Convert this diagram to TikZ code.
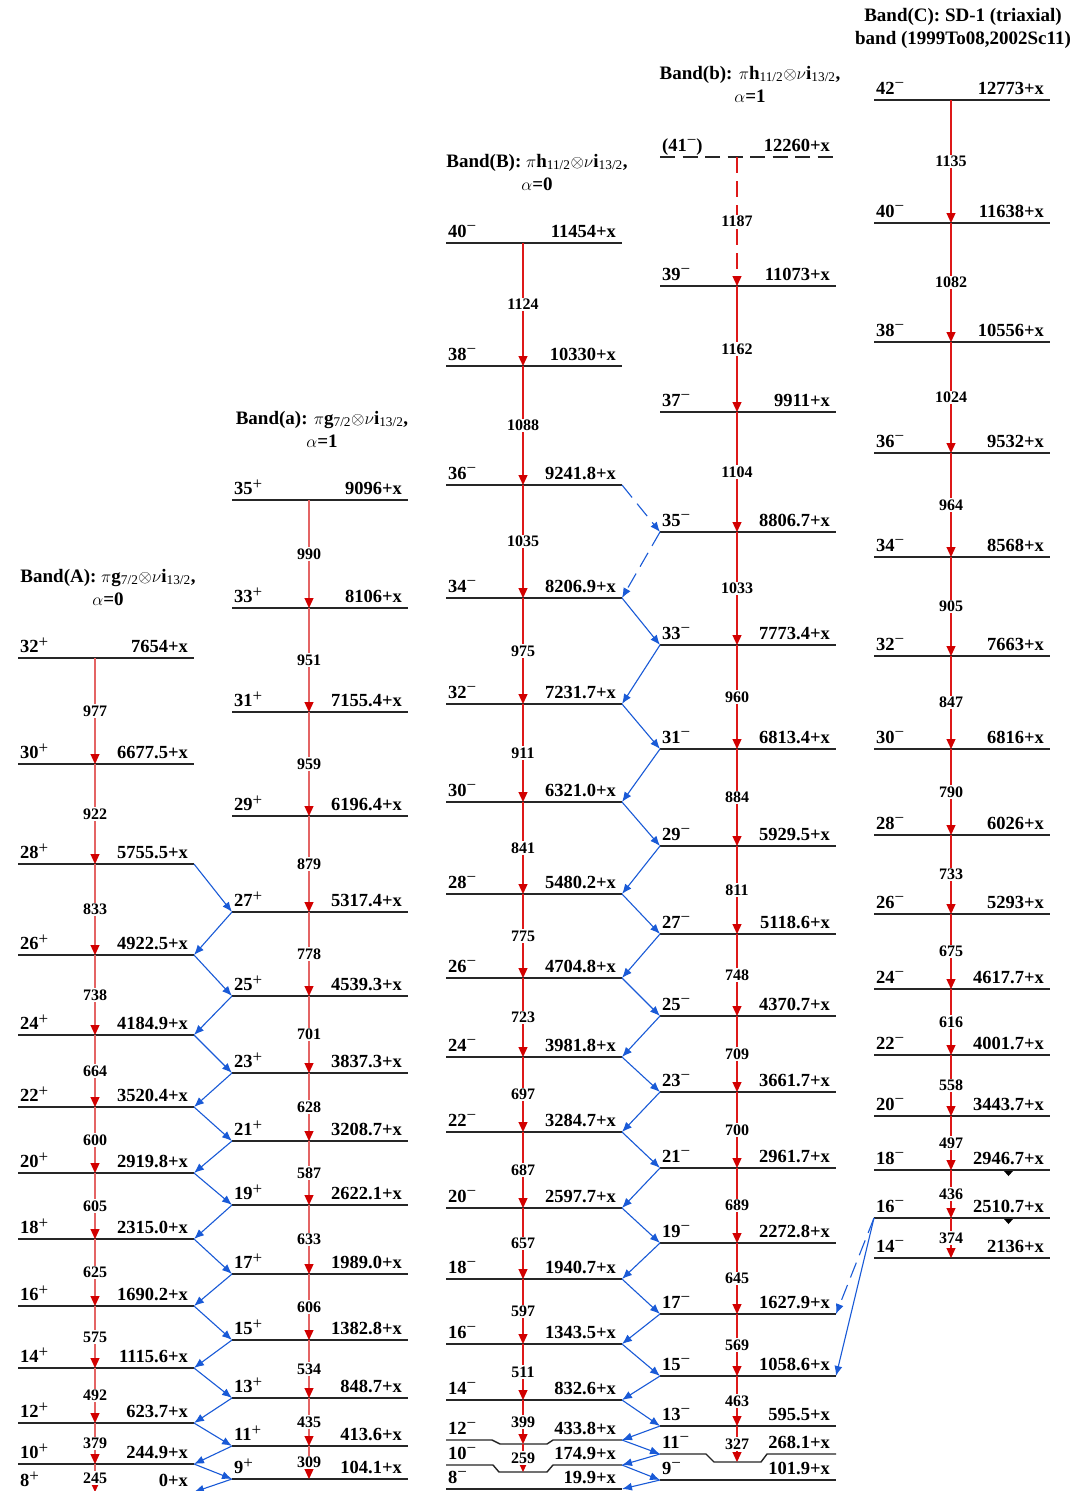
\documentclass[tikz,border=0pt]{standalone}
\usepackage{fontspec}
\setmainfont{Liberation Serif}
\usetikzlibrary{arrows.meta}
\definecolor{redA}{RGB}{228,100,100}
\definecolor{redB}{RGB}{222,25,25}
\definecolor{tipred}{RGB}{210,0,0}
\definecolor{linkblue}{RGB}{25,90,215}
\tikzstyle{LV} = [draw=black!85, line width=1.4pt]
\tikzstyle{J} = [anchor=base west, inner sep=0pt,
			font=\bfseries\fontsize{18.5}{20}\selectfont]
\tikzstyle{En} = [anchor=base east, inner sep=0pt,
			font=\bfseries\fontsize{18.5}{20}\selectfont]
\tikzstyle{G} = [fill=white, inner sep=1.5pt,
			font=\bfseries\fontsize{16}{17}\selectfont]
\tikzstyle{GA} = [draw=redA, line width=1.2pt,
			-{Triangle[length=10pt,width=9pt,color=tipred]}]
\tikzstyle{GB} = [draw=redB, line width=1.2pt,
			-{Triangle[length=10pt,width=9pt,color=tipred]}]
\tikzstyle{X} = [draw=linkblue, line width=1.1pt, -{Latex[length=10pt,width=8pt]}]
\tikzstyle{T} = [align=center, font=\bfseries\fontsize{19}{23}\selectfont]

% parity marks
\newcommand{\pp}{\raisebox{4.5pt}{\mdseries\fontsize{17}{17}\selectfont +}}
\newcommand{\mm}{\raisebox{5.5pt}{\mdseries\fontsize{17}{17}\selectfont −}}

% level: name, left x, y, spin, energy
\newcommand{\mklevel}[6][]{%
  \draw[LV,#1] (#3,#4) coordinate (#2-L) -- ++(176,0) coordinate (#2-R);
  \coordinate (#2-s) at (#3+77,#4);
  \node[J] (#2-j) at ([shift={(2,-6)}]#2-L) {#5};
  \node[En] (#2-e) at ([shift={(-6,-6)}]#2-R) {#6};}

\begin{document}
\begin{tikzpicture}[x=1pt, y=-1pt]

\path[use as bounding box, fill=white] (0,0) rectangle (1073,1491);

% titles
\node[T] (tA) at (108,587)
	{Band(A): $\pi$g\textsubscript{\mdseries 7/2}$\otimes\nu$i\textsubscript{\mdseries 13/2},\\$\alpha$=0};
\node[T] (ta) at (322,429)
	{Band(a): $\pi$g\textsubscript{\mdseries 7/2}$\otimes\nu$i\textsubscript{\mdseries 13/2},\\$\alpha$=1};
\node[T] (tB) at (537,172)
	{Band(B): $\pi$h\textsubscript{\mdseries 11/2}$\otimes\nu$i\textsubscript{\mdseries 13/2},\\$\alpha$=0};
\node[T] (tb) at (750,84)
	{Band(b): $\pi$h\textsubscript{\mdseries 11/2}$\otimes\nu$i\textsubscript{\mdseries 13/2},\\$\alpha$=1};
\node[T] (tC) at (963,28)
	{Band(C): SD-1 (triaxial)\\band (1999To08,2002Sc11)};

% band A
\foreach \n/\h/\j/\e in {A32/658/32/7654, A30/764/30/6677.5, A28/864/28/5755.5,
	A26/955/26/4922.5, A24/1035/24/4184.9, A22/1107/22/3520.4, A20/1173/20/2919.8,
	A18/1239/18/2315.0, A16/1306/16/1690.2, A14/1368/14/1115.6, A12/1423/12/623.7,
	A10/1464/10/244.9, A8/1492/8/0}
	{\mklevel{\n}{18}{\h}{\j\pp}{\e+x}}

% band a
\foreach \n/\h/\j/\e in {a35/500/35/9096, a33/608/33/8106, a31/712/31/7155.4,
	a29/816/29/6196.4, a27/912/27/5317.4, a25/996/25/4539.3, a23/1073/23/3837.3,
	a21/1141/21/3208.7, a19/1205/19/2622.1, a17/1274/17/1989.0, a15/1340/15/1382.8,
	a13/1398/13/848.7, a11/1446/11/413.6, a9/1479/9/104.1}
	{\mklevel{\n}{232}{\h}{\j\pp}{\e+x}}

% band B
\foreach \n/\h/\j/\e in {B40/243/40/11454, B38/366/38/10330, B36/485/36/9241.8,
	B34/598/34/8206.9, B32/704/32/7231.7, B30/802/30/6321.0, B28/894/28/5480.2,
	B26/978/26/4704.8, B24/1057/24/3981.8, B22/1132/22/3284.7, B20/1208/20/2597.7,
	B18/1279/18/1940.7, B16/1344/16/1343.5, B14/1400/14/832.6, B8/1489/8/19.9}
	{\mklevel{\n}{446}{\h}{\j\mm}{\e+x}}

\draw[LV] (446,1440) coordinate (B12-L) -- (492,1440) -- (500,1444) -- (547,1444)
	-- (553,1440) -- (622,1440) coordinate (B12-R);
\coordinate (B12-s) at (523,1444);
\node[J] (B12-j) at (448,1434) {12\mm};
\node[En] (B12-e) at (616,1434) {433.8+x};

\draw[LV] (446,1465) coordinate (B10-L) -- (493,1465) -- (499,1472) -- (547,1472)
	-- (553,1465) -- (622,1465) coordinate (B10-R);
\coordinate (B10-s) at (523,1472);
\node[J] (B10-j) at (448,1459) {10\mm};
\node[En] (B10-e) at (616,1459) {174.9+x};

% band b
\mklevel[dash pattern=on 15pt off 7.5pt]{b41}{660}{157}{(41\mm)}{12260+x}
\foreach \n/\h/\j/\e in {b39/286/39/11073, b37/412/37/9911, b35/532/35/8806.7,
	b33/645/33/7773.4, b31/749/31/6813.4, b29/846/29/5929.5, b27/934/27/5118.6,
	b25/1016/25/4370.7, b23/1092/23/3661.7, b21/1168/21/2961.7, b19/1243/19/2272.8,
	b17/1314/17/1627.9, b15/1376/15/1058.6, b13/1426/13/595.5, b9/1480/9/101.9}
	{\mklevel{\n}{660}{\h}{\j\mm}{\e+x}}

\draw[LV] (660,1454) coordinate (b11-L) -- (706,1454) -- (714,1462) -- (761,1462)
	-- (767,1454) -- (836,1454) coordinate (b11-R);
\coordinate (b11-s) at (737,1462);
\node[J] (b11-j) at (662,1448) {11\mm};
\node[En] (b11-e) at (830,1448) {268.1+x};

% band C
\foreach \n/\h/\j/\e in {C42/100/42/12773, C40/223/40/11638, C38/342/38/10556,
	C36/453/36/9532, C34/557/34/8568, C32/656/32/7663, C30/749/30/6816,
	C28/835/28/6026, C26/914/26/5293, C24/989/24/4617.7, C22/1055/22/4001.7,
	C20/1116/20/3443.7, C18/1170/18/2946.7, C16/1218/16/2510.7, C14/1258/14/2136}
	{\mklevel{\n}{874}{\h}{\j\mm}{\e+x}}

\foreach \n in {C18,C16}
	\fill ([shift={(130,1)}]\n-L) -- ++(9,0) -- ++(-4.5,5) -- cycle;

% in-band transitions
\foreach \u/\v/\e in {A32/A30/977, A30/A28/922, A28/A26/833, A26/A24/738,
	A24/A22/664, A22/A20/600, A20/A18/605, A18/A16/625, A16/A14/575,
	A14/A12/492, A12/A10/379, A10/A8/245,
	a35/a33/990, a33/a31/951, a31/a29/959, a29/a27/879, a27/a25/778,
	a25/a23/701, a23/a21/628, a21/a19/587, a19/a17/633, a17/a15/606,
	a15/a13/534, a13/a11/435, a11/a9/309}
	\path[GA] (\u-s) -- node[G] {\e} (\v-s);

\foreach \u/\v/\e in {B40/B38/1124, B38/B36/1088, B36/B34/1035, B34/B32/975,
	B32/B30/911, B30/B28/841, B28/B26/775, B26/B24/723, B24/B22/697,
	B22/B20/687, B20/B18/657, B18/B16/597, B16/B14/511, B14/B12/399, B12/B10/259,
	b39/b37/1162, b37/b35/1104, b35/b33/1033, b33/b31/960, b31/b29/884,
	b29/b27/811, b27/b25/748, b25/b23/709, b23/b21/700, b21/b19/689,
	b19/b17/645, b17/b15/569, b15/b13/463, b13/b11/327,
	C42/C40/1135, C40/C38/1082, C38/C36/1024, C36/C34/964, C34/C32/905,
	C32/C30/847, C30/C28/790, C28/C26/733, C26/C24/675, C24/C22/616,
	C22/C20/558, C20/C18/497, C18/C16/436, C16/C14/374}
	\path[GB] (\u-s) -- node[G] {\e} (\v-s);

\path[GB, dash pattern=on 16pt off 8pt] (b41-s) -- node[G] {1187} (b39-s);

% inter-band links
\foreach \u/\v in {A28/a27, A26/a25, A24/a23, A22/a21, A20/a19, A18/a17,
	A16/a15, A14/a13, A12/a11, A10/a9,
	B34/b33, B32/b31, B30/b29, B28/b27, B26/b25, B24/b23, B22/b21,
	B20/b19, B18/b17, B16/b15, B14/b13, B12/b11, B10/b9}
	\path[X] (\u-R) -- (\v-L);

\foreach \u/\v in {a27/A26, a25/A24, a23/A22, a21/A20, a19/A18, a17/A16,
	a15/A14, a13/A12, a11/A10, a9/A8,
	b33/B32, b31/B30, b29/B28, b27/B26, b25/B24, b23/B22, b21/B20,
	b19/B18, b17/B16, b15/B14, b13/B12, b11/B10, b9/B8}
	\path[X] (\u-L) -- (\v-R);

\path[X, dash pattern=on 16pt off 8pt] (B36-R) -- (b35-L);
\path[X, dash pattern=on 16pt off 8pt] (b35-L) -- (B34-R);

\path[X, dash pattern=on 16pt off 8pt] (C16-L) -- (b17-R);
\path[X] (C16-L) -- (b15-R);

\end{tikzpicture}
\end{document}
